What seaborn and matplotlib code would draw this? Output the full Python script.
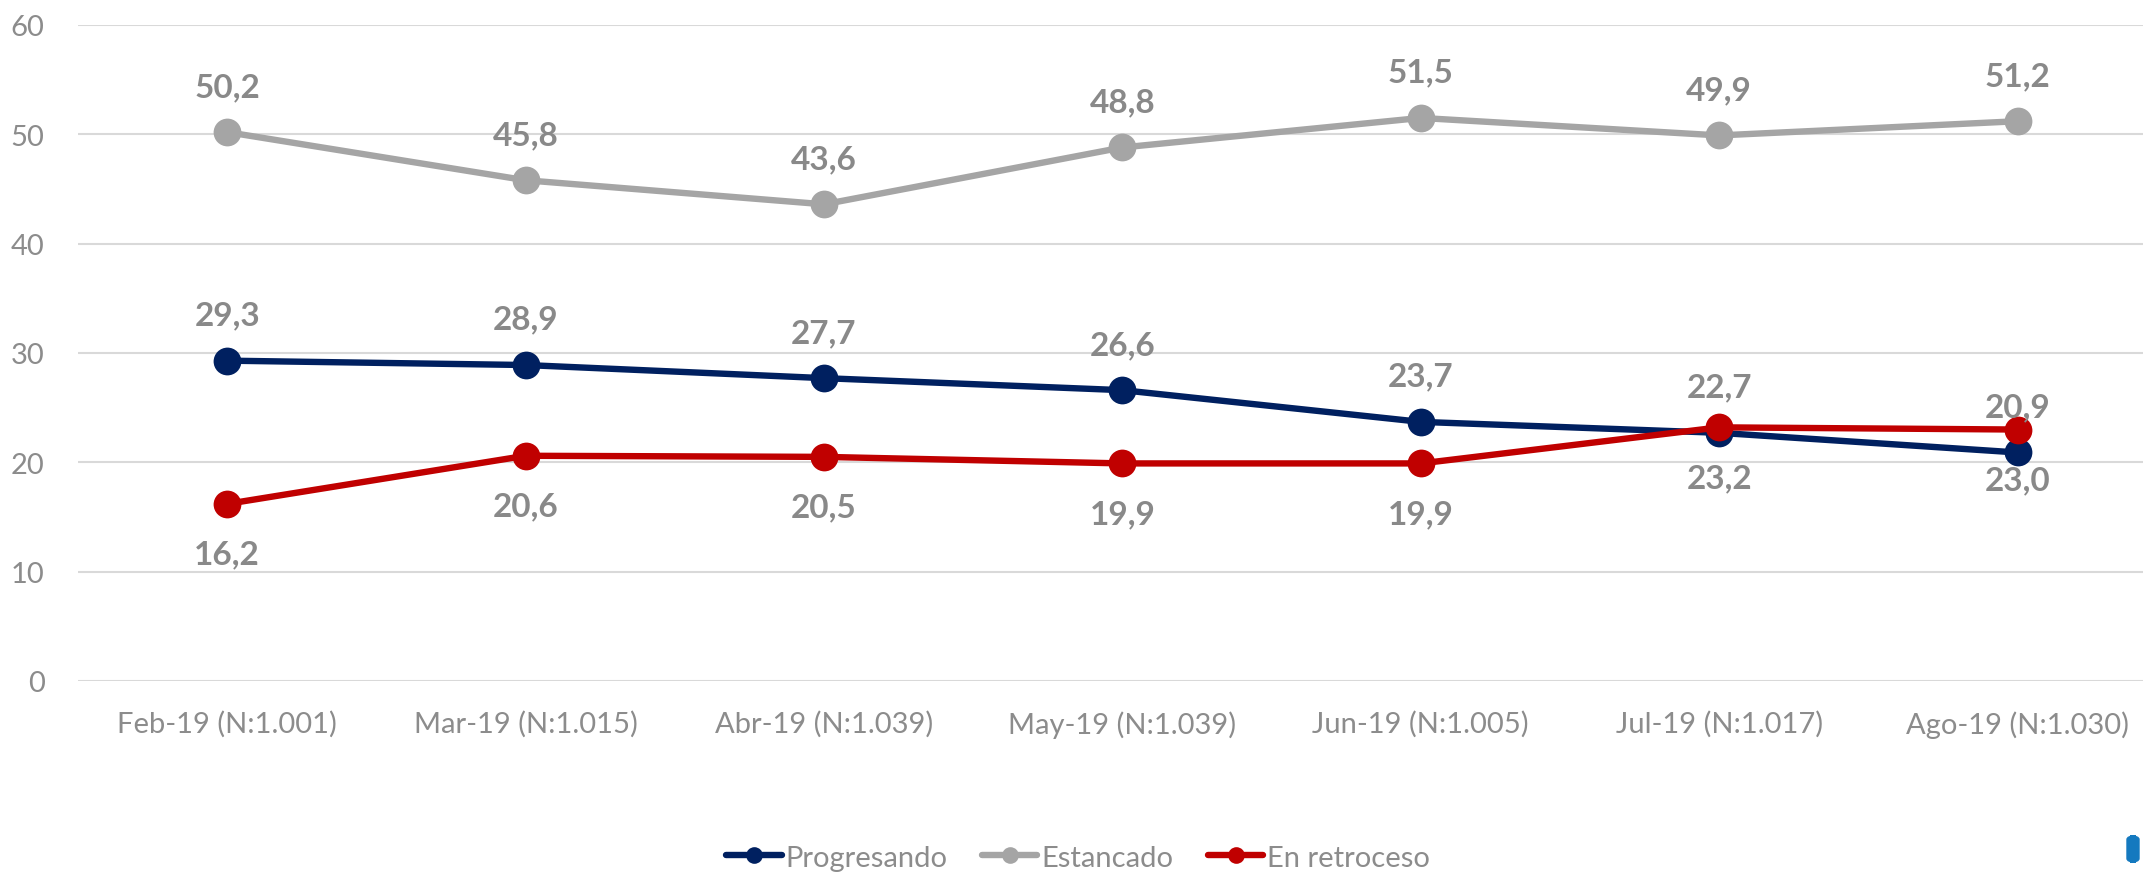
import numpy as np
import pandas as pd
import matplotlib
matplotlib.use("Agg")
import matplotlib.pyplot as plt
import seaborn as sns
from matplotlib.patches import FancyBboxPatch

# Datos
meses = ["Feb-19 (N:1.001)", "Mar-19 (N:1.015)", "Abr-19 (N:1.039)", "May-19 (N:1.039)",
         "Jun-19 (N:1.005)", "Jul-19 (N:1.017)", "Ago-19 (N:1.030)"]
progresando = [29.3, 28.9, 27.7, 26.6, 23.7, 22.7, 20.9]
estancado = [50.2, 45.8, 43.6, 48.8, 51.5, 49.9, 51.2]
en_retroceso = [16.2, 20.6, 20.5, 19.9, 19.9, 23.2, 23.0]

series = [
    ("Progresando", progresando, "#002060", 33),
    ("Estancado", estancado, "#A5A5A5", 33),
    ("En retroceso", en_retroceso, "#C00000", -36),
]

sns.set_theme(style="white")
plt.rcParams["font.family"] = ["Lato", "DejaVu Sans"]

fig = plt.figure(figsize=(21.43, 8.78), dpi=100)
ax = fig.add_axes([78 / 2143, 1 - 682 / 878, 7 * 298.4 / 2143, 656 / 878])

x = np.arange(len(meses))
for nombre, valores, color, off in series:
    df = pd.DataFrame({"x": x, "y": valores})
    sns.lineplot(data=df, x="x", y="y", ax=ax, color=color, linewidth=4.6,
                 marker="o", markersize=20, markeredgewidth=0, label=nombre)

for nombre, valores, color, off in series:
    for xi, v in zip(x, valores):
        ax.annotate(f"{v:.1f}".replace(".", ","), (xi, v), xytext=(0, off),
                    textcoords="offset points", ha="center", va="center",
                    fontsize=24, fontweight="bold", color="#898989")

ax.set_xlim(-0.5, 6.5)
ax.set_ylim(0, 60)
ax.set_yticks(range(0, 61, 10))
ax.set_xticks(x)
ax.set_xticklabels(meses)
ax.set_xlabel("")
ax.set_ylabel("")
ax.grid(axis="y", color="#D9D9D9", linewidth=1.5)
ax.set_axisbelow(True)
for s in ax.spines.values():
    s.set_visible(False)
ax.tick_params(axis="both", length=0, labelsize=21, labelcolor="#8C8C8C")
ax.tick_params(axis="y", pad=24)
ax.tick_params(axis="x", pad=21)

ax.get_legend().remove()
handles, labels = ax.get_legend_handles_labels()
fig.legend(handles, labels, loc="center", bbox_to_anchor=(0.503, 0.022), ncol=3,
           frameon=False, fontsize=21, labelcolor="#8C8C8C", markerscale=0.6,
           handlelength=1.9, handletextpad=0.12, columnspacing=1.2, borderpad=0)

fig.patches.append(FancyBboxPatch((2127 / 2143, 1 - 863 / 878), 12 / 2143, 26 / 878,
                                  boxstyle="round,pad=0,rounding_size=0.004",
                                  transform=fig.transFigure, color="#1479BF"))

fig.savefig("out.png", dpi=100)
